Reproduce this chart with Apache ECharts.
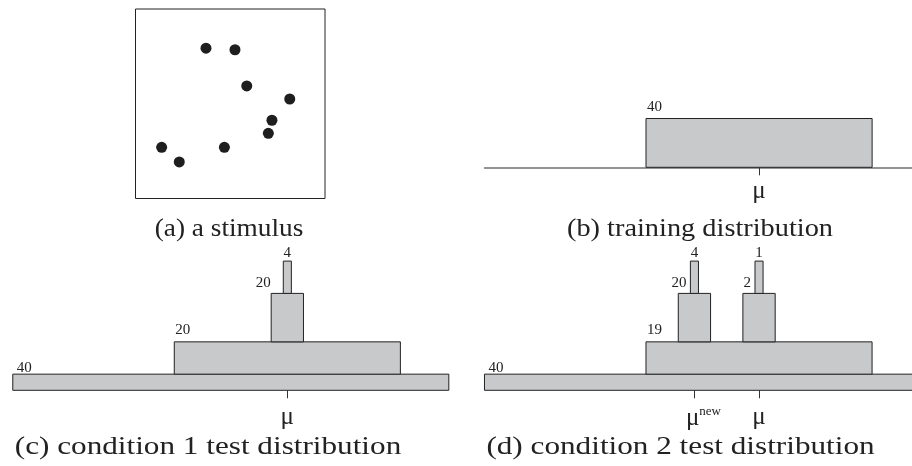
<!DOCTYPE html>
<html>
<head>
<meta charset="utf-8">
<script src="https://cdn.jsdelivr.net/npm/echarts@6/dist/echarts.min.js"></script>
<style>
html,body{margin:0;padding:0;background:#fff;}
#chart{width:912px;height:466px;}
</style>
</head>
<body>
<div id="chart"></div>
<script>
// ---------- data ----------
// (a) stimulus dot positions (0..100 box units)
const dotX = [37.2, 52.5, 58.7, 81.4, 72.0, 70.1, 13.8, 46.9, 23.1];
const dotY = [79.3, 78.5, 59.4, 52.5, 41.3, 34.4, 27.0, 27.0, 19.3];

// (b) training distribution (x relative to mu)
const bX0 = [-3.5];
const bX1 = [3.5];
const bY0 = [0];
const bY1 = [3];
const bCounts = [40];
const bTier = [1];
const bTicks = [0];
const bTickLabels = ['μ'];
const bTickSup = [''];

// (c) condition 1 test distribution
const cX0 = [-8.5, -3.5, -0.5, -0.125];
const cX1 = [5, 3.5, 0.5, 0.125];
const cY0 = [0, 1, 3, 6];
const cY1 = [1, 3, 6, 8];
const cCounts = [40, 20, 20, 4];
const cTier = [0, 1, 2, 3];
const cTicks = [0];
const cTickLabels = ['μ'];
const cTickSup = [''];

// (d) condition 2 test distribution
const dX0 = [-8.5, -3.5, -2.5, -2.125, -0.5, -0.125];
const dX1 = [5, 3.5, -1.5, -1.875, 0.5, 0.125];
const dY0 = [0, 1, 3, 6, 3, 6];
const dY1 = [1, 3, 6, 8, 6, 8];
const dCounts = [40, 19, 20, 4, 2, 1];
const dTier = [0, 1, 2, 3, 2, 3];
const dTicks = [-2, 0];
const dTickLabels = ['μ', 'μ'];
const dTickSup = ['new', ''];

const captions = ['(a) a stimulus', '(b) training distribution', '(c) condition 1 test distribution', '(d) condition 2 test distribution'];

// ---------- helpers ----------
const SERIF = "'Liberation Serif', 'DejaVu Serif', serif";
const FILL = '#c8c9cb';
const EDGE = '#222';

function rows(x0, x1, y0, y1, counts, tier) {
  return x0.map((v, i) => [v, x1[i], y0[i], y1[i], counts[i], tier[i]]);
}

function makeRender(towerMode, firstOffset) {
  return function (params, api) {
    const x0 = api.value(0), x1 = api.value(1), y0 = api.value(2), y1 = api.value(3);
    const count = api.value(4), tier = api.value(5);
    const tl = api.coord([x0, y1]);
    const br = api.coord([x1, y0]);
    const rect = {
      type: 'rect',
      shape: { x: tl[0], y: tl[1], width: br[0] - tl[0], height: br[1] - tl[1] },
      style: { fill: FILL, stroke: EDGE, lineWidth: 1 }
    };
    let tx, ty, align, valign;
    if (tier === 0) {
      tx = tl[0] + firstOffset; ty = tl[1] + 1; align = 'left'; valign = 'bottom';
    } else if (tier === 1) {
      tx = tl[0] + 1; ty = tl[1] - 4; align = 'left'; valign = 'bottom';
    } else if (tier === 2) {
      const w = br[0] - tl[0];
      tx = towerMode === 'needle' ? tl[0] + w * 0.375 - 4 : tl[0] - 0.5;
      ty = tl[1] - 10; align = 'right'; valign = 'middle';
    } else {
      tx = (tl[0] + br[0]) / 2; ty = tl[1] - 1; align = 'center'; valign = 'bottom';
    }
    const label = {
      type: 'text',
      style: {
        text: String(count), x: tx, y: ty, textAlign: align, textVerticalAlign: valign,
        fill: '#222', font: '15px ' + SERIF
      }
    };
    return { type: 'group', children: [rect, label] };
  };
}

function tickAxis(gridIndex, min, max, ticks, labels, sups, showLine, margin) {
  return {
    type: 'value', gridIndex, min, max,
    axisLine: { show: showLine, lineStyle: { color: '#707070', width: 1.5 } },
    axisTick: { show: true, customValues: ticks, length: 8, lineStyle: { color: '#333', width: 1 } },
    axisLabel: {
      show: true, customValues: ticks, margin,
      formatter: function (v) {
        const i = ticks.indexOf(v);
        if (i < 0) return '';
        if (sups[i]) return '{p|}{m|' + labels[i] + '}{s|' + sups[i] + '}';
        return '{m|' + labels[i] + '}';
      },
      rich: {
        p: { width: 18 },
        m: { fontSize: 25, fontFamily: SERIF, color: '#222' },
        s: { fontSize: 13, fontFamily: SERIF, color: '#222', verticalAlign: 'top', padding: [0, 0, 14, 0] }
      }
    },
    splitLine: { show: false }
  };
}

const hiddenY = (gridIndex, min, max) => ({
  type: 'value', gridIndex, min, max,
  axisLine: { show: false }, axisTick: { show: false }, axisLabel: { show: false }, splitLine: { show: false }
});

function caption(text, cx, cy, sx) {
  return {
    type: 'text', x: cx, y: cy, scaleX: sx, scaleY: 1,
    style: { text, x: 0, y: 0, textAlign: 'center', textVerticalAlign: 'middle', font: '26px ' + SERIF, fill: '#222' }
  };
}

// x scale: 32.3 px per unit; y scale: ~16.15 px per unit
const option = {
  animation: false,
  backgroundColor: '#ffffff',
  grid: [
    { left: 135.5, top: 9, width: 189.5, height: 189.5, show: true, borderColor: '#222', borderWidth: 1, backgroundColor: 'transparent', outerBoundsMode: 'none', containLabel: false },
    { left: 484.5, top: 118.5, width: 428, height: 48.8, outerBoundsMode: 'none', containLabel: false },
    { left: 4.7, top: 261.1, width: 452.2, height: 129.2, outerBoundsMode: 'none', containLabel: false },
    { left: 476.4, top: 261.1, width: 452.2, height: 129.2, outerBoundsMode: 'none', containLabel: false }
  ],
  xAxis: [
    { type: 'value', gridIndex: 0, min: 0, max: 100, show: false, splitLine: { show: false } },
    tickAxis(1, -8.5, 4.75, bTicks, bTickLabels, bTickSup, true, 12),
    tickAxis(2, -8.75, 5.25, cTicks, cTickLabels, cTickSup, false, 15),
    tickAxis(3, -8.75, 5.25, dTicks, dTickLabels, dTickSup, false, 15)
  ],
  yAxis: [
    { type: 'value', gridIndex: 0, min: 0, max: 100, show: false, splitLine: { show: false } },
    hiddenY(1, 0, 3),
    hiddenY(2, 0, 8),
    hiddenY(3, 0, 8)
  ],
  series: [
    {
      type: 'scatter', xAxisIndex: 0, yAxisIndex: 0,
      data: dotX.map((x, i) => [x, dotY[i]]),
      symbol: 'circle', symbolSize: 11,
      itemStyle: { color: '#1e1e1e', opacity: 1 }
    },
    {
      type: 'custom', xAxisIndex: 1, yAxisIndex: 1, clip: false,
      renderItem: makeRender('tower', 1),
      data: rows(bX0, bX1, bY0, bY1, bCounts, bTier)
    },
    {
      type: 'custom', xAxisIndex: 2, yAxisIndex: 2, clip: false,
      renderItem: makeRender('tower', 4),
      data: rows(cX0, cX1, cY0, cY1, cCounts, cTier)
    },
    {
      type: 'custom', xAxisIndex: 3, yAxisIndex: 3, clip: false,
      renderItem: makeRender('needle', 4),
      data: rows(dX0, dX1, dY0, dY1, dCounts, dTier)
    }
  ],
  graphic: [
    caption(captions[0], 229, 229, 1.05),
    caption(captions[1], 700, 229, 1.09),
    caption(captions[2], 208, 447, 1.2),
    caption(captions[3], 680.5, 447, 1.2)
  ]
};

const chart = echarts.init(document.getElementById('chart'), null, { renderer: 'canvas' });
chart.setOption(option);
</script>
</body>
</html>
